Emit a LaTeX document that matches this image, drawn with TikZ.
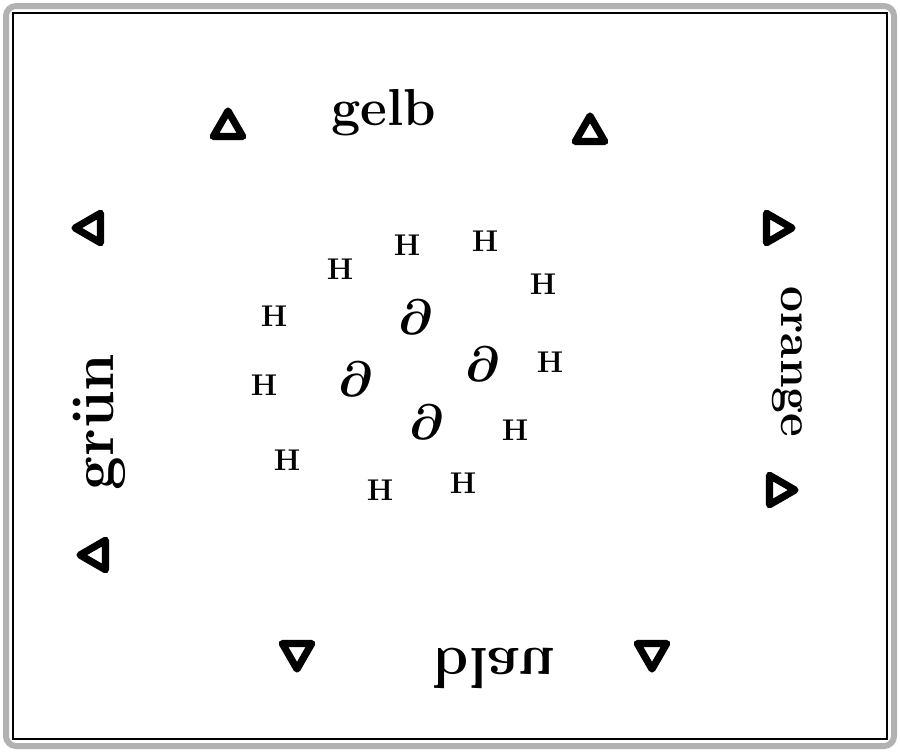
\documentclass[tikz,border=0pt]{standalone}
\usetikzlibrary{shapes.geometric}
\begin{document}
\begin{tikzpicture}[x=0.5pt, y=-0.5pt,
        colname/.style={inner sep=0pt, font=\fontsize{#1}{#1}\selectfont\bfseries},
        seat/.style={draw, regular polygon, regular polygon sides=3, minimum size=17pt, inner sep=0pt, line width=3.6pt, line join=round},
        hpiece/.style={inner sep=0pt, font=\fontsize{15}{16}\selectfont\bfseries},
        dpiece/.style={inner sep=0pt, font=\fontsize{24}{26}\selectfont\boldmath}]
                \useasboundingbox (0,0) rectangle (900,752);
                \draw[gray!60, line width=3pt, rounded corners=5pt] (6,6) rectangle (894,746);
                \draw[black, line width=0.7pt] (13,13) rectangle (887,739);

                % colour names
                \node[colname=26] (gelb) at (384,113) {gelb};
                \node[colname=30, rotate=90] (gruen) at (99,422) {grün};
                \node[colname=23, rotate=-90] (orange) at (787,362) {orange};
                \node[colname=29, yscale=-1] (blau) at (494,668) {blau};

                % seats
                \node[seat] (s1) at (228,128) {};
                \node[seat] (s2) at (590,133) {};
                \node[seat, rotate=90] (s3) at (92,228) {};
                \node[seat, rotate=90] (s4) at (97,555) {};
                \node[seat, rotate=-90] (s5) at (775,228) {};
                \node[seat, rotate=-90] (s6) at (778,490) {};
                \node[seat, rotate=180] (s7) at (297,652) {};
                \node[seat, rotate=180] (s8) at (652,652) {};

                % pieces
                \node[hpiece] (h1) at (407,245) {H};
                \node[hpiece] (h2) at (485,241) {H};
                \node[hpiece] (h3) at (340,269) {H};
                \node[hpiece] (h4) at (543,284) {H};
                \node[hpiece] (h5) at (274,316) {H};
                \node[hpiece] (h6) at (550,362) {H};
                \node[hpiece] (h7) at (264,385) {H};
                \node[hpiece] (h8) at (515,430) {H};
                \node[hpiece] (h9) at (287,460) {H};
                \node[hpiece] (h10) at (463,483) {H};
                \node[hpiece] (h11) at (380,490) {H};
                \node[dpiece] (d1) at (416,317) {$\partial$};
                \node[dpiece] (d2) at (356,379) {$\partial$};
                \node[dpiece] (d3) at (483,364) {$\partial$};
                \node[dpiece] (d4) at (427,422) {$\partial$};
            \end{tikzpicture}
\end{document}
